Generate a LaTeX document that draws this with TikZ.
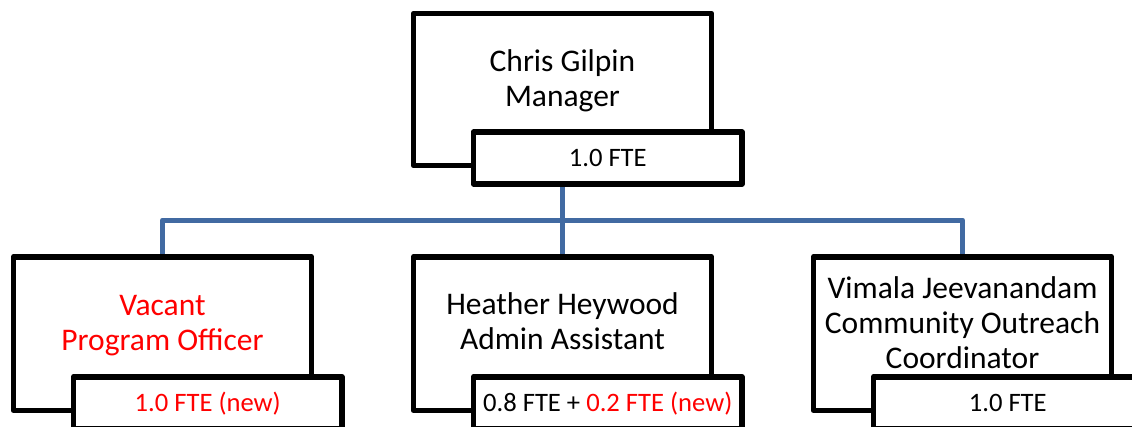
\documentclass[tikz,border=0pt]{standalone}
\usepackage{fontspec}
\setmainfont{Carlito}
\usetikzlibrary{positioning,backgrounds}
\definecolor{linkblue}{RGB}{65,106,162}
\definecolor{newred}{RGB}{255,0,0}

\begin{document}
\begin{tikzpicture}[x=1pt,y=-1pt]
    \tikzset{role/.style={draw, line width=5.5pt, line join=round, fill=white,
        minimum width=298pt, minimum height=153.5pt, inner sep=0pt, outer sep=0pt}}
    \tikzset{fte/.style={role, minimum width=268.5pt, minimum height=52pt,
        font=\fontsize{26.6}{31}\selectfont, text height=17pt, text depth=0pt}}
    \tikzset{title/.style={text width=300pt, align=flush center, inner sep=0pt,
        font=\fontsize{31.5}{35}\selectfont, anchor=base}}
    \tikzset{link/.style={draw=linkblue, line width=5pt, line join=round}}
    \clip (0,0) rectangle (1132,426);
    % boxes
    \node[role, minimum height=152pt] (mgr) at (562.5,89.5) {};
    \node[role] (left) at (162.5,333.5) {};
    \node[role, right=102pt of left] (mid) {};
    \node[role, right=102pt of mid] (right) {};
    % names
    \node[title] (mgrname) at ([yshift=-58.3pt]mgr.north) {Chris Gilpin\\Manager};
    \node[title, text=newred] (leftname) at ([yshift=-58.5pt]left.north) {Vacant\\Program Officer};
    \node[title] (midname) at ([yshift=-58pt]mid.north) {Heather Heywood\\Admin Assistant};
    \node[title] (rightname) at ([yshift=-41.5pt]right.north) {Vimala Jeevanandam\\Community Outreach\\Coordinator};
    % FTE tags
    \node[fte, anchor=north west] (mgrfte) at ([shift={(60pt,33.5pt)}]mgr.south west) {1.0 FTE};
    \node[fte, anchor=north west, text=newred] (leftfte) at ([shift={(60pt,33.5pt)}]left.south west) {1.0 FTE (new)};
    \node[fte, anchor=north west] (midfte) at ([shift={(60pt,33.5pt)}]mid.south west) {0.8 FTE + \textcolor{newred}{0.2 FTE (new)}};
    \node[fte, anchor=north west] (rightfte) at ([shift={(60pt,33.5pt)}]right.south west) {1.0 FTE};
    % connectors, behind the boxes
    \begin{scope}[on background layer]
        \coordinate (bus) at (562.5,220);
        \draw[link] (mgr.south) -- (bus);
        \draw[link] (left.north) |- (bus) -| (right.north);
        \draw[link] (bus) -- (mid.north);
    \end{scope}
\end{tikzpicture}
\end{document}
